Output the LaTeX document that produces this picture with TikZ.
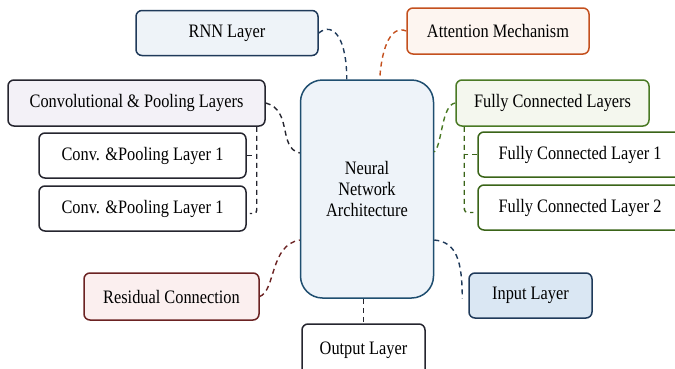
\documentclass[tikz,border=0pt]{standalone}
\usepackage{fontspec}
\setmainfont{Liberation Serif}[FakeStretch=0.86]
\usetikzlibrary{calc}
\definecolor{navy}{HTML}{1F3A5A}
\definecolor{cnavy}{HTML}{1F4E70}
\definecolor{orng}{HTML}{C4501E}
\definecolor{grn}{HTML}{4A7A25}
\definecolor{dgrn}{HTML}{3A6418}
\definecolor{dred}{HTML}{6B2222}
\definecolor{dk}{HTML}{25252F}
\definecolor{fblue}{HTML}{EEF3F8}
\definecolor{fcen}{HTML}{EEF3F9}
\definecolor{forng}{HTML}{FDF5F0}
\definecolor{flav}{HTML}{F3F1F7}
\definecolor{fgrn}{HTML}{F4F7EE}
\definecolor{fpink}{HTML}{FBEFEF}
\definecolor{finp}{HTML}{DAE7F3}
\tikzset{
  box/.style={draw, rounded corners=6pt, line width=1.5pt, inner sep=0pt,
    font=\fontsize{19}{21}\selectfont, align=center},
  conn/.style={line width=1.4pt, dash pattern=on 5pt off 4pt}
}
\begin{document}
\begin{tikzpicture}[x=1pt,y=-1pt]
\clip (0,0) rectangle (675,368);
\fill[white] (0,0) rectangle (675,368);
% nodes
\node[box, draw=navy, fill=fblue, minimum width=182pt, minimum height=45pt] (rnn) at (227,33) {RNN Layer};
\node[box, draw=orng, fill=forng, minimum width=182pt, minimum height=46pt] (att) at (498,31) {Attention Mechanism};
\node[box, draw=dk, fill=flav, minimum width=257pt, minimum height=46pt] (conv) at (136.5,103) {Convolutional \& Pooling Layers};
\node[box, draw=dk, fill=white, minimum width=207pt, minimum height=45pt] (c1) at (142.5,155.5) {Conv. \&Pooling Layer 1};
\node[box, draw=dk, fill=white, minimum width=207pt, minimum height=45pt] (c2) at (142.5,208.5) {Conv. \&Pooling Layer 1};
\node[box, draw=cnavy, fill=fcen, rounded corners=22pt, minimum width=133pt, minimum height=218pt, font=\fontsize{19}{21}\selectfont] (nn) at (367,189) {Neural\\Network\\Architecture};
\node[box, draw=grn, fill=fgrn, minimum width=193pt, minimum height=46pt] (fc) at (552.5,103) {Fully Connected Layers};
\node[box, draw=dgrn, fill=white, minimum width=204pt, minimum height=45pt] (fc1) at (580,154.5) {Fully Connected Layer 1};
\node[box, draw=dgrn, fill=white, minimum width=204pt, minimum height=45pt] (fc2) at (580,207.5) {Fully Connected Layer 2};
\node[box, draw=dred, fill=fpink, minimum width=175pt, minimum height=47pt] (res) at (171.5,296.5) {Residual Connection};
\node[box, draw=navy, fill=finp, minimum width=123pt, minimum height=45pt] (inp) at (530.5,295.5) {Input Layer};
\node[box, draw=dk, fill=white, minimum width=123pt, minimum height=52pt] (out) at (363.5,350) {Output Layer};
% connectors
\draw[conn, navy] (rnn.east) .. controls +(15,-12) and +(0,-40) .. ($(nn.north west)+(47,0)$);
\draw[conn, orng] (att.west) .. controls +(-14,-6) and +(2,-35) .. ($(nn.north west)+(80,0)$);
\draw[conn, dk] (conv.east) .. controls +(27,7) and +(-22,-5) .. ($(nn.west)+(0,-36)$);
\draw[conn, dk] ($(conv.south east)+(-9,0)$) -- ($(c2.east)+(10,-2)$) .. controls ($(c2.east)+(10,5)$) .. ($(c2.east)+(3,5)$);
\draw[conn, dk] (c1.east) -- ++(10,0);
\draw[conn, grn] (fc.west) .. controls +(-14,2) and +(8,-7) .. ($(nn.east)+(0,-37)$);
\draw[conn, dgrn] ($(fc.south west)+(9,0)$) -- ($(fc2.west)+(-13,-2)$) .. controls ($(fc2.west)+(-13,5)$) .. ($(fc2.west)+(-4,5)$);
\draw[conn, dgrn] (fc1.west) -- ++(-13,0);
\draw[conn, dred] (res.east) .. controls +(16,-6) and +(-30,5) .. ($(nn.west)+(0,51)$);
\draw[conn, navy] ($(nn.east)+(0,51)$) .. controls +(22,2) and +(0,-38) .. ($(inp.west)+(-6,3)$);
\draw[conn, dk] (out.north |- nn.south) -- (out.north);
\end{tikzpicture}
\end{document}
